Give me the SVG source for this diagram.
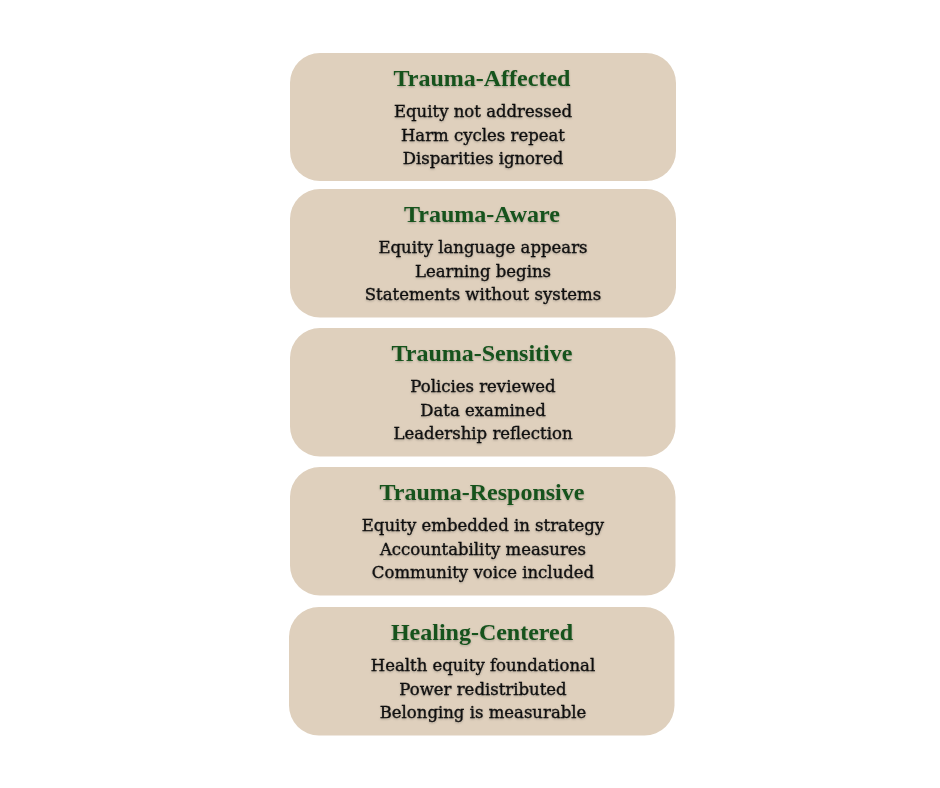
<svg xmlns="http://www.w3.org/2000/svg" width="940" height="788" viewBox="0 0 940 788">
  <defs>
    <filter id="ts" x="-10%" y="-30%" width="120%" height="160%">
      <feDropShadow dx="0" dy="1" stdDeviation="1.2" flood-color="#000" flood-opacity="0.25"/>
    </filter>
  </defs>
  <style>
    .box { fill: #dfd0bd; }
    .title { font-family: "Liberation Serif", "DejaVu Serif", serif; font-weight: bold; font-size: 24px; fill: #15521d; text-anchor: middle; filter: url(#ts); }
    .body { font-family: "DejaVu Serif", "Liberation Serif", serif; font-size: 16.5px; fill: #121212; stroke: #121212; stroke-width: 0.35px; text-anchor: middle; filter: url(#ts); }
  </style>
  <rect width="940" height="788" fill="#ffffff"/>
  <g id="connectors"/>
  <g id="trauma-affected">
    <rect class="box" x="290" y="53" width="386" height="128" rx="30" ry="30"/>
    <text class="title" x="482" y="86">Trauma-Affected</text>
    <text class="body" x="483" y="117">Equity not addressed</text>
    <text class="body" x="483" y="141">Harm cycles repeat</text>
    <text class="body" x="483" y="164">Disparities ignored</text>
  </g>
  <g id="trauma-aware">
    <rect class="box" x="290" y="189" width="386" height="128.5" rx="30" ry="30"/>
    <text class="title" x="482" y="222">Trauma-Aware</text>
    <text class="body" x="483" y="253">Equity language appears</text>
    <text class="body" x="483" y="277">Learning begins</text>
    <text class="body" x="483" y="300">Statements without systems</text>
  </g>
  <g id="trauma-sensitive">
    <rect class="box" x="290" y="328" width="385.5" height="128.5" rx="30" ry="30"/>
    <text class="title" x="482" y="361">Trauma-Sensitive</text>
    <text class="body" x="483" y="392">Policies reviewed</text>
    <text class="body" x="483" y="416">Data examined</text>
    <text class="body" x="483" y="439">Leadership reflection</text>
  </g>
  <g id="trauma-responsive">
    <rect class="box" x="290" y="467" width="385.5" height="128.5" rx="30" ry="30"/>
    <text class="title" x="482" y="500">Trauma-Responsive</text>
    <text class="body" x="483" y="531">Equity embedded in strategy</text>
    <text class="body" x="483" y="555">Accountability measures</text>
    <text class="body" x="483" y="578">Community voice included</text>
  </g>
  <g id="healing-centered">
    <rect class="box" x="289" y="607" width="385.5" height="128.5" rx="30" ry="30"/>
    <text class="title" x="482" y="640">Healing-Centered</text>
    <text class="body" x="483" y="671">Health equity foundational</text>
    <text class="body" x="483" y="695">Power redistributed</text>
    <text class="body" x="483" y="718">Belonging is measurable</text>
  </g>
</svg>
